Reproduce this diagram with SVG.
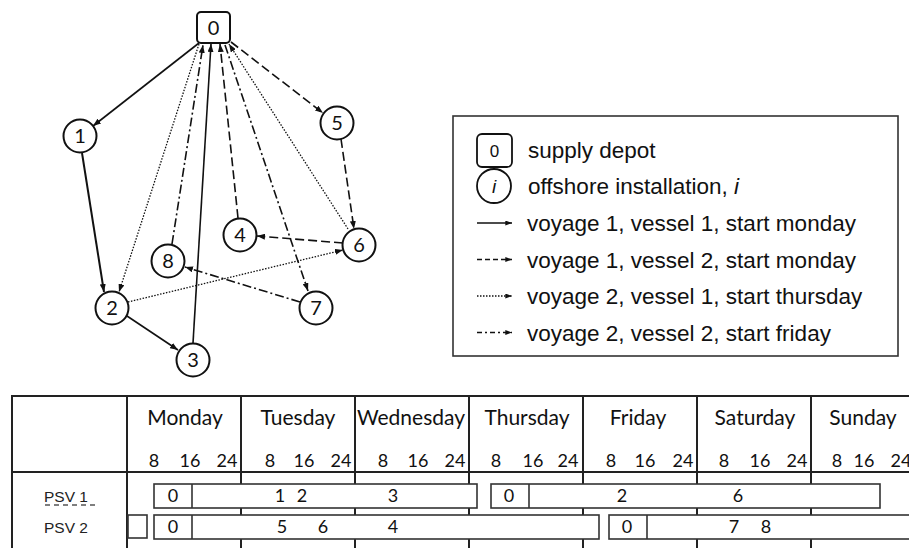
<svg xmlns="http://www.w3.org/2000/svg" width="909" height="548" viewBox="0 0 909 548">
<defs>
<marker id="ah" viewBox="0 0 8 6" refX="8" refY="3" markerWidth="8" markerHeight="6" markerUnits="userSpaceOnUse" orient="auto"><path d="M0,0 L8,3 L0,6 z" fill="#111"/></marker>
<marker id="ahs" viewBox="0 0 8 6" refX="8" refY="3" markerWidth="7" markerHeight="5" markerUnits="userSpaceOnUse" orient="auto"><path d="M0,0 L8,3 L0,6 z" fill="#111"/></marker>
</defs>
<style>
.e{fill:none;stroke:#111;stroke-width:1.6;marker-end:url(#ah)}
.ls{fill:none;stroke:#111;stroke-width:1.4;marker-end:url(#ahs)}
.dash{stroke-dasharray:9 4}
.dot{stroke-dasharray:1.5 1.5;stroke-width:1.3}
.dd{stroke-dasharray:9 3 2 3}
.nd{fill:#fff;stroke:#111;stroke-width:2}
.nt{font-family:Lato,"Liberation Sans",sans-serif;font-size:20px;fill:#111;text-anchor:middle}
.lg{font-family:"Liberation Sans",Arial,sans-serif;font-size:22.5px;fill:#111}
.tl{stroke:#222;stroke-width:2;fill:none}
.th{font-family:Lato,"Liberation Sans",sans-serif;font-size:21px;fill:#111;text-anchor:middle}
.tn{font-family:Lato,"Liberation Sans",sans-serif;font-size:18px;fill:#111;text-anchor:middle}
.bar{fill:#fff;stroke:#333;stroke-width:1.6}
.rl{font-family:"Liberation Sans",Arial,sans-serif;font-size:15.5px;fill:#222}
</style>
<rect width="909" height="548" fill="#fff"/>

<g id="connectors">
<line class="e" x1="199" y1="43" x2="93" y2="126"/>
<line class="e" x1="82" y1="153" x2="104" y2="292" style="stroke-width:2"/>
<line class="e" x1="127" y1="316" x2="178" y2="350"/>
<line class="e" x1="193" y1="343" x2="211" y2="44"/>
<line class="e dash" x1="231" y1="42" x2="323" y2="113"/>
<line class="e dash" x1="341" y1="139" x2="354" y2="229"/>
<line class="e dash" x1="343" y1="243" x2="257" y2="236"/>
<line class="e dash" x1="238" y1="218" x2="220" y2="44"/>
<line class="e dot" x1="199" y1="44" x2="119" y2="292"/>
<line class="e dot" x1="128" y1="302" x2="343" y2="250"/>
<line class="e dot" x1="348" y1="229" x2="229" y2="44"/>
<line class="e dd" x1="225" y1="45" x2="308" y2="291"/>
<line class="e dd" x1="300" y1="302" x2="185" y2="267"/>
<line class="e dd" x1="172" y1="244" x2="203" y2="45"/>
</g>

<g id="node0"><rect class="nd" x="197" y="12" width="33" height="31" rx="4"/><text class="nt" x="213.5" y="34.5">0</text></g>
<g id="node1"><circle class="nd" cx="80" cy="136" r="16.5"/><text class="nt" x="80" y="143">1</text></g>
<g id="node2"><circle class="nd" cx="112" cy="308" r="16.5"/><text class="nt" x="112" y="315">2</text></g>
<g id="node3"><circle class="nd" cx="193" cy="360" r="16.5"/><text class="nt" x="193" y="367">3</text></g>
<g id="node4"><circle class="nd" cx="240" cy="235" r="16.5"/><text class="nt" x="240" y="242">4</text></g>
<g id="node5"><circle class="nd" cx="337" cy="123" r="16.5"/><text class="nt" x="337" y="130">5</text></g>
<g id="node6"><circle class="nd" cx="359" cy="245" r="16.5"/><text class="nt" x="359" y="252">6</text></g>
<g id="node7"><circle class="nd" cx="316" cy="308" r="16.5"/><text class="nt" x="316" y="315">7</text></g>
<g id="node8"><circle class="nd" cx="168" cy="261" r="16.5"/><text class="nt" x="168" y="268">8</text></g>

<g id="legend">
<rect x="453" y="116" width="445" height="240" fill="#fff" stroke="#333" stroke-width="1.6"/>
<rect x="477" y="134" width="35" height="33" rx="5" fill="#fff" stroke="#111" stroke-width="1.8"/>
<text x="494.5" y="157" style="font-family:'Liberation Sans',Arial,sans-serif;font-size:17px;text-anchor:middle;fill:#111">0</text>
<text class="lg" x="528" y="158">supply depot</text>
<circle cx="494" cy="186" r="17" fill="#fff" stroke="#111" stroke-width="1.8"/>
<text x="494" y="193" style="font-family:'Liberation Sans',Arial,sans-serif;font-size:19px;font-style:italic;text-anchor:middle;fill:#111">i</text>
<text class="lg" x="528" y="194">offshore installation, <tspan font-style="italic">i</tspan></text>
<line class="ls" x1="477" y1="223" x2="512" y2="223"/>
<text class="lg" x="527" y="231">voyage 1, vessel 1, start monday</text>
<line class="ls dash" x1="477" y1="259.5" x2="512" y2="259.5" style="stroke-dasharray:5 3"/>
<text class="lg" x="527" y="267.5">voyage 1, vessel 2, start monday</text>
<line class="ls dot" x1="477" y1="296" x2="512" y2="296"/>
<text class="lg" x="527" y="304">voyage 2, vessel 1, start thursday</text>
<line class="ls dd" x1="477" y1="332.5" x2="512" y2="332.5" style="stroke-dasharray:5 3 2 3"/>
<text class="lg" x="527" y="340.5">voyage 2, vessel 2, start friday</text>
</g>

<g id="table">
<line class="tl" x1="12" y1="396" x2="909" y2="396"/>
<line class="tl" x1="12" y1="472" x2="909" y2="472"/>
<line class="tl" x1="12" y1="395" x2="12" y2="548"/>
<line class="tl" x1="127" y1="395" x2="127" y2="548"/>
<line class="tl" x1="241" y1="395" x2="241" y2="548"/>
<line class="tl" x1="355" y1="395" x2="355" y2="548"/>
<line class="tl" x1="469" y1="395" x2="469" y2="548"/>
<line class="tl" x1="583" y1="395" x2="583" y2="548"/>
<line class="tl" x1="697" y1="395" x2="697" y2="548"/>
<line class="tl" x1="811" y1="395" x2="811" y2="548"/>
<text class="th" x="185" y="425">Monday</text>
<text class="th" x="298" y="425">Tuesday</text>
<text class="th" x="411" y="425">Wednesday</text>
<text class="th" x="527" y="425">Thursday</text>
<text class="th" x="638" y="425">Friday</text>
<text class="th" x="755" y="425">Saturday</text>
<text class="th" x="863" y="425">Sunday</text>
<g class="tn">
<text x="154" y="467">8</text><text x="190" y="467">16</text><text x="227" y="467">24</text>
<text x="270" y="467">8</text><text x="304" y="467">16</text><text x="341" y="467">24</text>
<text x="383" y="467">8</text><text x="418" y="467">16</text><text x="455" y="467">24</text>
<text x="496" y="467">8</text><text x="533" y="467">16</text><text x="568" y="467">24</text>
<text x="611" y="467">8</text><text x="645" y="467">16</text><text x="683" y="467">24</text>
<text x="724" y="467">8</text><text x="760" y="467">16</text><text x="797" y="467">24</text>
<text x="837" y="467">8</text><text x="864" y="467">16</text><text x="901" y="467">24</text>
</g>
<text class="rl" x="44" y="502">PSV 1</text>
<line x1="45" y1="505" x2="97" y2="505" stroke="#555" stroke-width="1.3" stroke-dasharray="5 4"/>
<text class="rl" x="44" y="533">PSV 2</text>
</g>

<g id="psv1-voyage1">
<rect class="bar" x="154" y="484" width="323" height="24"/>
<line class="bar" x1="192" y1="484" x2="192" y2="508"/>
<g class="tn"><text x="173" y="502">0</text><text x="280" y="502">1</text><text x="302" y="502">2</text><text x="393" y="502">3</text></g>
</g>
<g id="psv1-voyage2">
<rect class="bar" x="491" y="484" width="389" height="24"/>
<line class="bar" x1="529" y1="484" x2="529" y2="508"/>
<g class="tn"><text x="509" y="502">0</text><text x="622" y="502">2</text><text x="738" y="502">6</text></g>
</g>
<g id="psv2-prev">
<rect class="bar" x="128" y="515" width="19" height="23"/>
</g>
<g id="psv2-voyage1">
<rect class="bar" x="154" y="515" width="445" height="24"/>
<line class="bar" x1="192" y1="515" x2="192" y2="539"/>
<g class="tn"><text x="173" y="533">0</text><text x="282" y="533">5</text><text x="323" y="533">6</text><text x="393" y="533">4</text></g>
</g>
<g id="psv2-voyage2">
<rect class="bar" x="609" y="515" width="320" height="24"/>
<line class="bar" x1="647" y1="515" x2="647" y2="539"/>
<g class="tn"><text x="627" y="533">0</text><text x="734" y="533">7</text><text x="766" y="533">8</text></g>
</g>
</svg>
